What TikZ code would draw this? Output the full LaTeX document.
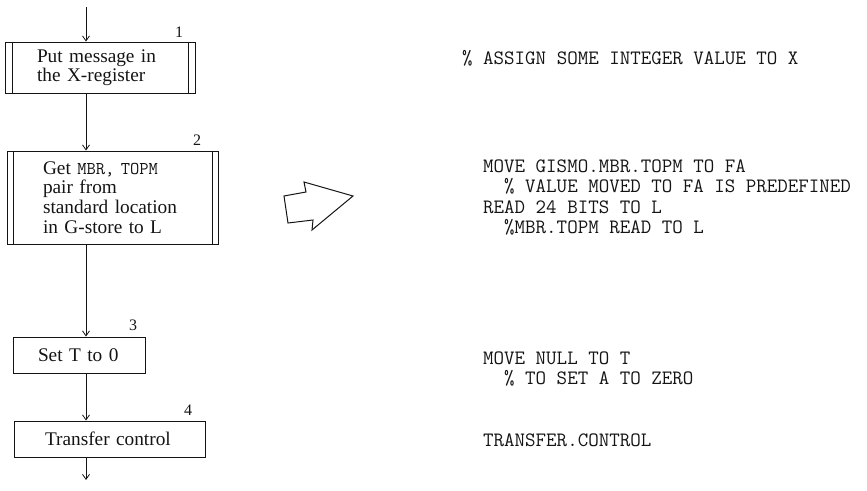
\documentclass[tikz,border=0pt]{standalone}
\usepackage{fontspec}
\setmainfont{Liberation Serif}
\usetikzlibrary{arrows.meta, positioning, calc}
\definecolor{InkBlack}{RGB}{20, 20, 20}
\tikzset{
  box/.style={rectangle, draw=InkBlack, line width=0.9pt, inner xsep=0pt, inner ysep=0pt,
              align=left, font=\fontsize{19.3}{19.6}\selectfont, text=InkBlack},
  procbox/.style={box, path picture={
      \draw[InkBlack, line width=0.9pt]
        ([xshift=#1]path picture bounding box.north west) -- ([xshift=#1]path picture bounding box.south west);
      \draw[InkBlack, line width=0.9pt]
        ([xshift=-#1]path picture bounding box.north east) -- ([xshift=-#1]path picture bounding box.south east);}},
  procbox/.default=7pt,
  num/.style={inner sep=0pt, font=\fontsize{16}{16}\selectfont, text=InkBlack},
  code/.style={anchor=west, align=left, inner sep=0pt,
               font=\ttfamily\fontsize{20.4}{20.5}\selectfont, text=InkBlack},
  flow/.style={-{Straight Barb[length=5pt, width=7pt]}, line width=0.8pt, draw=InkBlack},
}
\newcommand{\regname}[1]{{\ttfamily\fontsize{18}{19.6}\selectfont #1}}

\begin{document}
\begin{tikzpicture}[x=1pt, y=-1pt]
  \useasboundingbox (0,0) rectangle (867,490);

  % flowchart
  \coordinate (src) at (86,7);
  \coordinate (sink) at (86,480);
  \node[procbox=7pt, minimum width=190pt, minimum height=51pt, text width=126pt] (b1) at (100,67.5)
       {Put message in\\the X-register};
  \node[procbox=6pt, minimum width=211pt, minimum height=93pt, text width=139pt] (b2) at (112.5,197.5)
       {Get \regname{MBR, TOPM}\\pair from\\standard location\\in G-store to L};
  \node[box, minimum width=132pt, minimum height=36pt, text width=82pt] (b3) at (79,355)
       {Set T to 0};
  \node[box, minimum width=191pt, minimum height=36pt, text width=129pt] (b4) at (109.5,439)
       {Transfer control};

  \node[num] (n1) at (179,32) {1};
  \node[num] (n2) at (197,140) {2};
  \node[num] (n3) at (133,325) {3};
  \node[num] (n4) at (188,410) {4};

  \draw[flow] (src) -- (src |- b1.north);
  \draw[flow] (b1.south -| src) -- (b2.north -| src);
  \draw[flow] (b2.south -| src) -- (b3.north -| src);
  \draw[flow] (b3.south -| src) -- (b4.north -| src);
  \draw[flow] (b4.south -| src) -- (sink);

  % hollow arrow
  \draw[InkBlack, line width=1pt, line join=miter]
    (284,196) -- (306,192) -- (304,182) -- (353,196) -- (312,230) -- (313,220) -- (288,223) -- cycle;

  % program text
  \node[code] (c1) at (462,58) {\% ASSIGN SOME INTEGER VALUE TO X};
  \node[code] (c2) at (483,197.5)
       {MOVE GISMO.MBR.TOPM TO FA\\\phantom{xx}\% VALUE MOVED TO FA IS PREDEFINED\\READ 24 BITS TO L\\\phantom{xx}\%MBR.TOPM READ TO L};
  \node[code] (c3) at (483,369) {MOVE NULL TO T\\\phantom{xx}\% TO SET A TO ZERO};
  \node[code] (c4) at (483,440) {TRANSFER.CONTROL};
\end{tikzpicture}
\end{document}
